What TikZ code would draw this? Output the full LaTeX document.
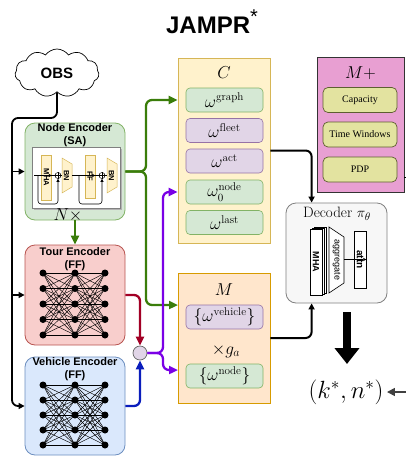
\documentclass[tikz,border=0pt]{standalone}
\usepackage{fontspec}
\newfontfamily\hv{Liberation Sans}
\newfontfamily\tms{Liberation Serif}
\usetikzlibrary{shapes.symbols,shapes.geometric,arrows.meta,calc}
\definecolor{gfill}{HTML}{D5E8D4}\definecolor{gdraw}{HTML}{82B366}
\definecolor{rfill}{HTML}{F8CECC}\definecolor{rdraw}{HTML}{B85450}
\definecolor{bfill}{HTML}{DAE8FC}\definecolor{bdraw}{HTML}{6C8EBF}
\definecolor{yfill}{HTML}{FFF2CC}\definecolor{ydraw}{HTML}{D6B656}
\definecolor{ofill}{HTML}{FFE6CC}\definecolor{odraw}{HTML}{D79B00}
\definecolor{pfill}{HTML}{E1D5E7}\definecolor{pdraw}{HTML}{9673A6}
\definecolor{mpfill}{HTML}{E89FD2}\definecolor{kfill}{HTML}{E3E3A0}\definecolor{kdraw}{HTML}{5E5E30}
\definecolor{garrc}{HTML}{3A7D0A}\definecolor{parrc}{HTML}{7A00E6}
\definecolor{rarrc}{HTML}{A20025}\definecolor{barrc}{HTML}{0A1DBC}
\begin{document}
\begin{tikzpicture}[x=1pt,y=-1pt,
  enc/.style={draw, rounded corners=10, line width=0.8, minimum width=100},
  enctitle/.style={font=\hv\bfseries\fontsize{11}{13}\selectfont, align=center},
  mathlbl/.style={font=\fontsize{17}{20}\selectfont},
  ibox/.style={draw, rounded corners=4, minimum width=77, minimum height=24, inner sep=0, line width=0.6, font=\fontsize{16}{18}\selectfont},
  gbox/.style={ibox, fill=gfill, draw=gdraw},
  pbox/.style={ibox, fill=pfill, draw=pdraw},
  kbox/.style={draw=kdraw, fill=kfill, rounded corners=5, minimum width=74, minimum height=25, inner sep=0, line width=0.7, font=\tms\fontsize{10}{12}\selectfont},
  nn/.style={circle, fill=black, minimum size=7, inner sep=0},
  tip/.style={-{Triangle[length=6pt,width=6pt]}},
  karr/.style={line width=1.8, tip, rounded corners=6},
  garr/.style={draw=garrc, line width=2.3, -{Triangle[length=9pt,width=8pt]}, rounded corners=6},
  parr/.style={draw=parrc, line width=2.3, -{Triangle[length=9pt,width=8pt]}, rounded corners=6},
  rarr/.style={draw=rarrc, line width=2.3, -{Triangle[length=9pt,width=8pt]}, rounded corners=6},
  barr/.style={draw=barrc, line width=2.3, -{Triangle[length=9pt,width=8pt]}, rounded corners=6},
  yrect/.style={draw=ydraw, fill=yfill, line width=0.5, inner sep=0, font=\hv\bfseries\fontsize{7.5}{8}\selectfont},
  small/.style={line width=0.6, -{Triangle[length=3pt,width=3pt]}},
  pl/.style={circle, draw, fill=white, minimum size=6, inner sep=0, line width=0.5}
]
\useasboundingbox (0,0) rectangle (406,458);

% title
\node[font=\hv\bfseries\fontsize{24}{28}\selectfont] (title) at (212,22) {JAMPR\raisebox{10pt}{\fontsize{20}{20}\selectfont\mdseries *}};

% OBS cloud
\node[cloud, draw, line width=0.7, cloud puffs=11, cloud puff arc=110, aspect=1.9, minimum width=84, minimum height=48, inner sep=0, font=\hv\bfseries\fontsize{15}{18}\selectfont] (obs) at (57,73) {OBS};

% encoders
\node[enc, fill=gfill, draw=gdraw, minimum height=97] (ne) at (75,171.5) {};
\node[enctitle] (netitle) at (75,135.5) {Node Encoder\\(SA)};
\node[enc, fill=rfill, draw=rdraw, minimum height=100] (te) at (75,295) {};
\node[enctitle] (tetitle) at (75,259) {Tour Encoder\\(FF)};
\node[enc, fill=bfill, draw=bdraw, minimum height=98] (ve) at (75,406) {};
\node[enctitle] (vetitle) at (75,369.5) {Vehicle Encoder\\(FF)};

% node encoder inner block
\fill[gray!60] (34,149) rectangle (122,210);
\node[draw=gray, fill=white, line width=0.8, minimum width=88, minimum height=61, inner sep=0] (nein) at (76,177.5) {};
\node[yrect, rotate=-90, minimum width=45, minimum height=10] (mha1) at (46.5,177.5) {MHA};
\node[pl] (p1) at (58,175.5) {};
\draw[line width=0.5] (p1.north)--(p1.south) (p1.west)--(p1.east);
\draw[draw=ydraw, fill=yfill, line width=0.5] (62,158) -- (72,164) -- (72,187) -- (62,193) -- cycle;
\node[font=\hv\bfseries\fontsize{7.5}{8}\selectfont, rotate=-90] (bn1) at (66.5,175.5) {BN};
\node[yrect, rotate=-90, minimum width=43, minimum height=10] (ff1) at (90,176.5) {FF};
\node[pl] (p2) at (102,175.5) {};
\draw[line width=0.5] (p2.north)--(p2.south) (p2.west)--(p2.east);
\draw[draw=ydraw, fill=yfill, line width=0.5] (107,158) -- (117,164) -- (117,187) -- (107,193) -- cycle;
\node[font=\hv\bfseries\fontsize{7.5}{8}\selectfont, rotate=-90] (bn2) at (111.5,175.5) {BN};
\coordinate (nin) at (34,175.5);
\draw[small] (nin) -- (mha1.north |- p1);
\draw[line width=0.6] (mha1.south |- p1) -- (p1.west);
\draw[line width=0.6, -{Triangle[length=3pt,width=3pt]}, rounded corners=3] (38,175.5) -- (38,204) -| (p1.south);
\draw[line width=0.6] (p1.east) -- (62,175.5);
\draw[small] (72,175.5) -- (ff1.north |- p2);
\draw[line width=0.6, -{Triangle[length=3pt,width=3pt]}, rounded corners=3] (79,175.5) -- (79,204) -| (p2.south);
\draw[line width=0.6] (ff1.south |- p2) -- (p2.west);
\draw[line width=0.6] (p2.east) -- (107,175.5);
\node[mathlbl] (nx) at (68,215) {$N\times$};

% neural nets
\foreach \e/\ys in {t/{273,288.5,304,319.5,335}, v/{385,400,415,430,445}} {
  \foreach \y [count=\i] in \ys {
    \coordinate (\e a\i) at (43,\y);
    \coordinate (\e b\i) at (75,\y);
    \coordinate (\e c\i) at (105,\y);
  }
  \foreach \i in {1,...,5} \foreach \j in {1,...,5} {
    \draw[line width=0.45] (\e a\i) -- (\e b\j);
    \draw[line width=0.45] (\e b\i) -- (\e c\j);
  }
  \foreach \i in {1,...,5} {
    \node[nn] at (\e a\i) {};
    \node[nn] at (\e b\i) {};
    \node[nn] at (\e c\i) {};
  }
}

% combiner
\node[circle, draw=gray!80!black, fill=pfill, minimum size=14, inner sep=0, line width=0.7] (cmb) at (140,353) {};

% C block
\node[draw=ydraw, fill=yfill, line width=0.8, minimum width=92, minimum height=185, inner sep=0] (C) at (224,150.5) {};
\node[mathlbl] (Clbl) at (224,73) {$C$};
\node[gbox] (wgraph) at (224.5,100) {$\omega^{\mathrm{graph}}$};
\node[pbox] (wfleet) at (224.5,130.5) {$\omega^{\mathrm{fleet}}$};
\node[pbox] (wact) at (224.5,161) {$\omega^{\mathrm{act}}$};
\node[gbox] (wnode) at (224.5,192) {$\omega_0^{\mathrm{node}}$};
\node[gbox] (wlast) at (224.5,222.5) {$\omega^{\mathrm{last}}$};

% M block
\node[draw=odraw, fill=ofill, line width=0.8, minimum width=92, minimum height=130, inner sep=0] (M) at (224,338) {};
\node[mathlbl] (Mlbl) at (224,290) {$M$};
\node[pbox] (wveh) at (224.5,317) {$\{\omega^{\mathrm{vehicle}}\}$};
\node[mathlbl] (ga) at (226,351) {$\times g_a$};
\node[gbox] (wnd) at (224.5,376) {$\{\omega^{\mathrm{node}}\}$};

% M+ block
\node[draw=black!80, fill=mpfill, line width=0.8, minimum width=87, minimum height=135, inner sep=0] (Mp) at (360.5,124.5) {};
\node[mathlbl] (Mplbl) at (360.5,73) {$M{+}$};
\node[kbox] (cap) at (360,100) {Capacity};
\node[kbox] (tw) at (360,134.5) {Time Windows};
\node[kbox] (pdp) at (360,169.5) {PDP};
\draw[line width=1.5] (Mp.east |- pdp.south) ++(0,-5) -- ++(3,0);

% decoder
\node[draw=gray, fill=gray!6, rounded corners=10, line width=0.8, minimum width=101, minimum height=100] (dec) at (336.5,253) {};
\node[font=\fontsize{15}{18}\selectfont] (dectitle) at (337,214) {Decoder $\pi_\theta$};
\draw[fill=white, line width=0.6] (314,227) rectangle (326,293);
\draw[fill=white, line width=0.6] (312,228) rectangle (324,294);
\node[draw, fill=white, line width=0.6, rotate=-90, minimum width=66, minimum height=12, inner sep=0, font=\hv\bfseries\fontsize{9}{10}\selectfont] (dmha) at (316,262) {MHA};
\draw[fill=white, line width=0.6] (329,227) -- (344,237) -- (344,283) -- (329,293) -- cycle;
\node[rotate=-90, font=\hv\fontsize{9}{10}\selectfont] (agg) at (336.5,260) {aggregate};
\node[draw, fill=white, line width=0.6, rotate=-90, minimum width=57, minimum height=12, inner sep=0, font=\hv\bfseries\fontsize{10}{12}\selectfont] (attn) at (360,259.5) {attn};
\draw[small] (344,259.5) -- (attn.north);

% output
\node[font=\fontsize{27}{30}\selectfont] (out) at (346,392) {$(k^*,n^*)$};
\coordinate (bigs) at (347,312);
\coordinate (bige) at (347,364);
\draw[line width=8, -{Triangle[length=16pt,width=24pt]}] (bigs) -- (bige);
\coordinate (rin) at (406,392);
\draw[line width=1.6, draw=black!75, -{Triangle[length=8pt,width=8pt]}, fill=black!75] (rin) -- (out.east);

% connectors
\coordinate (lft) at (12,118);
\draw[karr] (obs.south) |- (lft) |- (ve.west);
\draw[karr] (lft |- ne.west) -- (ne.west);
\draw[karr] (lft |- te.west) -- (te.west);

\draw[garr, rounded corners=0] (ne.south) -- (te.north);
\coordinate (gs) at (146,171.5);
\coordinate (min1) at (178,305);
\draw[garr] (ne.east) -- (gs) |- (wgraph -| C.west);
\draw[garr] (ne.east) -- (gs) |- (min1);

\draw[rarr] (te.east) -| (cmb.north);
\draw[barr] (ve.east) -| (cmb.south);

\coordinate (ps) at (163,353);
\coordinate (min2) at (178,370);
\draw[parr] (cmb.east) -- (ps) |- (wnode -| C.west);
\draw[parr] (cmb.east) -- (ps) |- (min2);

\coordinate (din1) at ($(dec.north west)+(26,0)$);
\coordinate (din2) at ($(dec.south west)+(26,0)$);
\draw[karr, line width=2] (C.east) -| (din1);
\draw[karr, line width=2] (M.east) -| (din2);
\end{tikzpicture}
\end{document}
